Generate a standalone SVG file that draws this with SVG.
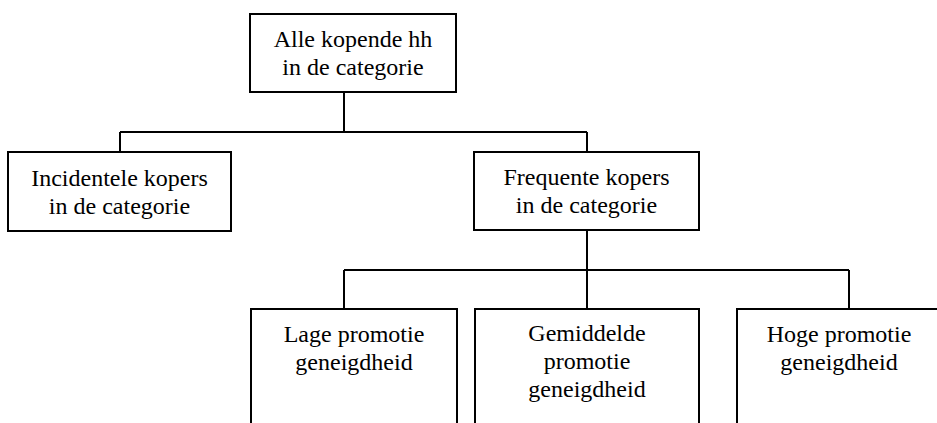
<svg xmlns="http://www.w3.org/2000/svg" width="937" height="423" viewBox="0 0 937 423">
  <style>
    .box { fill: #ffffff; stroke: #000000; stroke-width: 2; }
    .link { fill: none; stroke: #000000; stroke-width: 2; }
    .label { font-family: "Liberation Serif", "Times New Roman", serif; font-size: 24px; fill: #000000; text-anchor: middle; }
  </style>
  <rect x="0" y="0" width="937" height="423" fill="#ffffff"/>

  <g id="connectors">
    <path class="link" d="M344 92 V132 M120 132 H587 M120 132 V152 M587 132 V152"/>
    <path class="link" d="M587 230 V270 M344 270 H849 M344 270 V309 M587 270 V309 M849 270 V309"/>
  </g>

  <g id="node-alle">
    <rect class="box" x="250" y="14" width="206" height="78"/>
    <text class="label" x="353" y="47">Alle kopende hh</text>
    <text class="label" x="353" y="75">in de categorie</text>
  </g>

  <g id="node-incidenteel">
    <rect class="box" x="8" y="152" width="223" height="79"/>
    <text class="label" x="119.5" y="186">Incidentele kopers</text>
    <text class="label" x="119.5" y="214">in de categorie</text>
  </g>

  <g id="node-frequent">
    <rect class="box" x="474" y="152" width="225" height="78"/>
    <text class="label" x="586.5" y="185">Frequente kopers</text>
    <text class="label" x="586.5" y="213">in de categorie</text>
  </g>

  <g id="node-laag">
    <rect class="box" x="251" y="309" width="206" height="130"/>
    <text class="label" x="354" y="342">Lage promotie</text>
    <text class="label" x="354" y="370">geneigdheid</text>
  </g>

  <g id="node-gemiddeld">
    <rect class="box" x="475" y="309" width="224" height="130"/>
    <text class="label" x="587" y="341">Gemiddelde</text>
    <text class="label" x="587" y="369">promotie</text>
    <text class="label" x="587" y="397">geneigdheid</text>
  </g>

  <g id="node-hoog">
    <rect class="box" x="737" y="309" width="204" height="130"/>
    <text class="label" x="839" y="342">Hoge promotie</text>
    <text class="label" x="839" y="370">geneigdheid</text>
  </g>
</svg>
